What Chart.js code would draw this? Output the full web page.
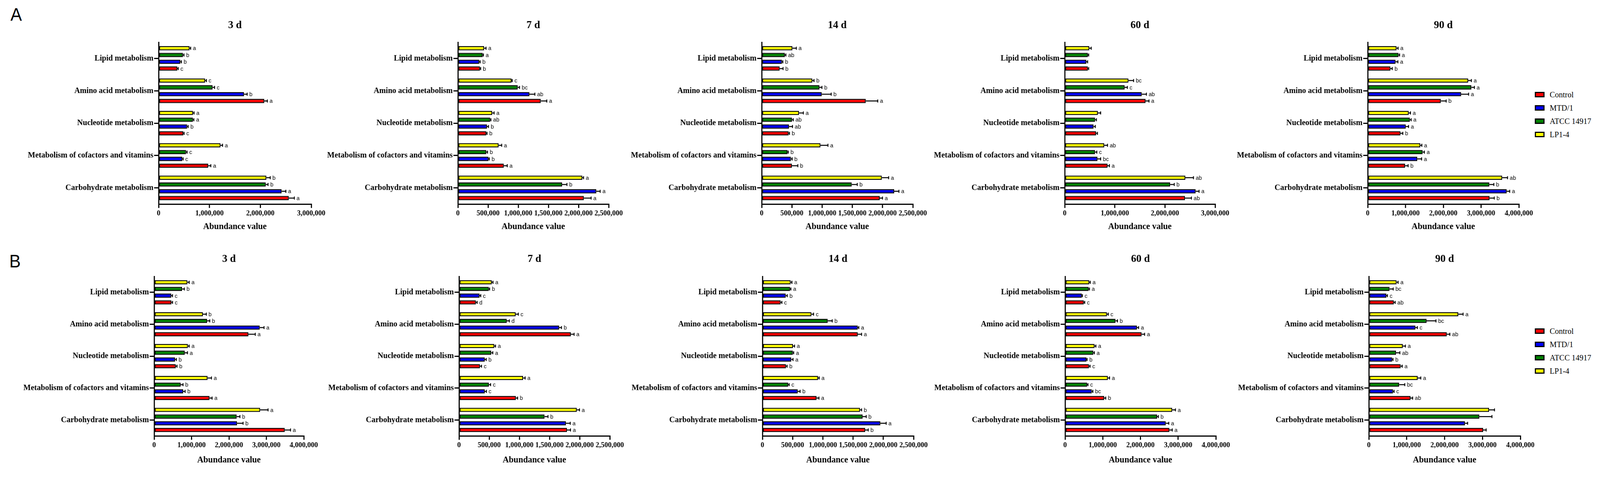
<!DOCTYPE html>
<html>
<head>
<meta charset="utf-8">
<script src="https://cdn.jsdelivr.net/npm/chart.js@4.4.1/dist/chart.umd.min.js"></script>
<style>
html, body { margin: 0; padding: 0; background: #fff; overflow: hidden; }
#page { position: absolute; left: 0; top: 0; width: 4298px; height: 1233px; transform-origin: 0 0; background: #fff; }
canvas { position: absolute; }
.tag { position: absolute; font-family: 'Liberation Sans', Arial, sans-serif; font-size: 46px; line-height: 1; color: #000; }
.legend { position: absolute; font-family: 'Liberation Serif', 'Times New Roman', serif; font-size: 21px; color: #000; }
.legend div { height: 34px; display: flex; align-items: center; white-space: nowrap; }
.legend span { display: inline-block; width: 20px; height: 8px; border: 3px solid #000; margin-right: 14px; }
</style>
</head>
<body>
<div id="page">
<div class="tag" style="left:28px;top:14px">A</div>
<div class="tag" style="left:25px;top:645px">B</div>
<div class="legend" id="legA" style="left:4123px;top:225px"></div>
<div class="legend" id="legB" style="left:4123px;top:830px"></div>
</div>
<script>
const CATS = ['Lipid metabolism', 'Amino acid metabolism', 'Nucleotide metabolism',
  'Metabolism of cofactors and vitamins', 'Carbohydrate metabolism'];
const GROUPS = ['Control', 'MTD/1', 'ATCC 14917', 'LP1-4'];
const COLORS = ['#ff0000', '#0000ff', '#008000', '#ffff00'];
const DAYS = ['3 d', '7 d', '14 d', '60 d', '90 d'];
const MAX_A = [3000000, 2500000, 2500000, 3000000, 4000000];
const MAX_B = [4000000, 2500000, 2500000, 4000000, 4000000];
const STEP_A = [1000000, 500000, 500000, 1000000, 1000000];
const STEP_B = [1000000, 500000, 500000, 1000000, 1000000];

// rows of each array: Control, MTD/1, ATCC 14917, LP1-4 ; columns follow CATS
// ---- A ----
const A3_MEAN = [[366000, 2077000, 486000, 976000, 2559000], [428000, 1680000, 561000, 465000, 2418000],
  [478000, 1060000, 673000, 540000, 2106000], [610000, 914000, 677000, 1217000, 2119000]];
const A3_SD = [[20000, 60000, 15000, 50000, 108000], [20000, 60000, 20000, 17000, 83000],
  [20000, 40000, 20000, 20000, 45000], [20000, 25000, 20000, 40000, 75000]];
const A3_SIG = [['c', 'a', 'c', 'a', 'a'], ['b', 'b', 'b', 'c', 'a'], ['b', 'c', 'a', 'c', 'b'], ['a', 'c', 'a', 'a', 'b']];

const A7_MEAN = [[365000, 1374000, 471000, 761000, 2089000], [354000, 1186000, 482000, 506000, 2295000],
  [411000, 992000, 535000, 471000, 1728000], [436000, 889000, 570000, 676000, 2064000]];
const A7_SD = [[12000, 100000, 12000, 57000, 120000], [15000, 90000, 25000, 15000, 64000],
  [12000, 30000, 12000, 20000, 80000], [30000, 12000, 30000, 50000, 20000]];
const A7_SIG = [['b', 'a', 'b', 'a', 'a'], ['b', 'ab', 'b', 'b', 'a'], ['a', 'bc', 'ab', 'b', 'b'], ['a', 'c', 'a', 'a', 'a']];

const A14_MEAN = [[297000, 1722000, 446000, 499000, 1952000], [336000, 994000, 453000, 484000, 2192000],
  [382000, 955000, 502000, 428000, 1489000], [509000, 838000, 619000, 972000, 1987000]];
const A14_SD = [[57000, 198000, 14000, 99000, 46000], [14000, 156000, 57000, 20000, 78000],
  [18000, 42000, 20000, 12000, 92000], [64000, 28000, 70000, 124000, 113000]];
const A14_SIG = [['b', 'a', 'b', 'b', 'a'], ['b', 'b', 'ab', 'b', 'a'], ['ab', 'b', 'ab', 'b', 'b'], ['a', 'b', 'a', 'a', 'a']];

const A60_MEAN = [[461000, 1613000, 627000, 854000, 2399000], [431000, 1536000, 576000, 653000, 2612000],
  [461000, 1195000, 606000, 606000, 2104000], [491000, 1272000, 662000, 790000, 2407000]];
const A60_SD = [[17000, 68000, 26000, 38000, 128000], [26000, 94000, 34000, 64000, 68000],
  [17000, 55000, 26000, 34000, 81000], [38000, 102000, 55000, 64000, 162000]];
const A60_SIG = [['', 'a', '', 'a', 'ab'], ['', 'ab', '', 'bc', 'a'], ['', 'c', '', 'c', 'b'], ['', 'bc', '', 'ab', 'ab']];

const A90_MEAN = [[600000, 1935000, 866000, 990000, 3225000], [736000, 2472000, 1007000, 1313000, 3678000],
  [815000, 2744000, 1115000, 1454000, 3219000], [764000, 2659000, 1086000, 1392000, 3559000]];
const A90_SD = [[50000, 141000, 62000, 79000, 124000], [62000, 198000, 74000, 113000, 79000],
  [28000, 79000, 34000, 45000, 119000], [40000, 85000, 45000, 40000, 141000]];
const A90_SIG = [['b', 'b', 'b', 'b', 'b'], ['a', 'a', 'a', 'a', 'a'], ['a', 'a', 'a', 'a', 'b'], ['a', 'a', 'a', 'a', 'ab']];

// ---- B ----
const B3_MEAN = [[463000, 2520000, 577000, 1480000, 3491000], [457000, 2823000, 560000, 777000, 2217000],
  [749000, 1417000, 817000, 709000, 2206000], [891000, 1303000, 903000, 1429000, 2834000]];
const B3_SD = [[29000, 183000, 34000, 69000, 154000], [34000, 114000, 34000, 51000, 160000],
  [57000, 69000, 74000, 63000, 86000], [46000, 91000, 34000, 103000, 211000]];
const B3_SIG = [['c', 'a', 'b', 'a', 'a'], ['c', 'a', 'b', 'b', 'b'], ['b', 'b', 'a', 'b', 'b'], ['a', 'b', 'a', 'a', 'a']];

const B7_MEAN = [[280000, 1855000, 348000, 943000, 1791000], [340000, 1660000, 426000, 426000, 1773000],
  [493000, 791000, 535000, 496000, 1418000], [543000, 940000, 585000, 1064000, 1954000]];
const B7_SD = [[20000, 53000, 25000, 28000, 57000], [20000, 39000, 25000, 28000, 71000],
  [14000, 43000, 25000, 28000, 57000], [20000, 43000, 20000, 32000, 43000]];
const B7_SIG = [['d', 'a', 'c', 'b', 'a'], ['c', 'b', 'b', 'c', 'a'], ['b', 'd', 'a', 'c', 'b'], ['a', 'c', 'a', 'a', 'a']];

const B14_MEAN = [[301000, 1576000, 390000, 896000, 1700000], [386000, 1576000, 478000, 584000, 1951000],
  [457000, 1080000, 503000, 425000, 1657000], [467000, 811000, 506000, 921000, 1615000]];
const B14_SD = [[21000, 64000, 18000, 39000, 50000], [25000, 18000, 28000, 39000, 96000],
  [14000, 74000, 14000, 18000, 60000], [21000, 35000, 25000, 18000, 25000]];
const B14_SIG = [['c', 'a', 'b', 'a', 'b'], ['b', 'a', 'a', 'b', 'a'], ['a', 'b', 'a', 'c', 'b'], ['a', 'c', 'a', 'a', 'b']];

const B60_MEAN = [[499000, 2031000, 635000, 1038000, 2769000], [443000, 1906000, 567000, 709000, 2672000],
  [624000, 1339000, 749000, 584000, 2440000], [641000, 1112000, 783000, 1135000, 2843000]];
const B60_SD = [[23000, 79000, 28000, 40000, 74000], [17000, 45000, 17000, 28000, 79000],
  [23000, 51000, 28000, 23000, 34000], [28000, 34000, 34000, 45000, 85000]];
const B60_SIG = [['c', 'a', 'c', 'b', 'a'], ['c', 'a', 'b', 'bc', 'a'], ['a', 'b', 'a', 'c', 'b'], ['a', 'c', 'a', 'a', 'a']];

const B90_MEAN = [[660000, 2059000, 841000, 1100000, 3018000], [463000, 1230000, 615000, 638000, 2539000],
  [547000, 1523000, 717000, 801000, 2917000], [733000, 2364000, 897000, 1292000, 3176000]];
const B90_SD = [[34000, 79000, 40000, 56000, 79000], [28000, 51000, 23000, 28000, 68000],
  [96000, 248000, 102000, 147000, 333000], [40000, 124000, 68000, 79000, 141000]];
const B90_SIG = [['ab', 'ab', 'a', 'ab', ''], ['c', 'c', 'b', 'c', ''], ['bc', 'bc', 'ab', 'bc', ''], ['a', 'a', 'a', 'a', '']];

const SERIF = "'Liberation Serif', 'Times New Roman', serif";
const SANS = "'Liberation Sans', Arial, sans-serif";
const YW = 430, PR = 70;
const page = document.getElementById('page');

// error bars (mean + SD, one-sided) and significance letters
const errBars = {
  id: 'errBars',
  afterDatasetsDraw(chart) {
    const { ctx } = chart;
    const xs = chart.scales.x;
    ctx.save();
    chart.data.datasets.forEach((ds, d) => {
      chart.getDatasetMeta(d).data.forEach((bar, i) => {
        const x1 = xs.getPixelForValue(ds.data[i] + ds.sd[i]);
        const h = bar.height * 0.36;
        ctx.strokeStyle = '#000';
        ctx.lineWidth = 2.5;
        ctx.beginPath();
        ctx.moveTo(bar.x, bar.y); ctx.lineTo(x1, bar.y);
        ctx.moveTo(x1, bar.y - h); ctx.lineTo(x1, bar.y + h);
        ctx.stroke();
        if (ds.sig[i]) {
          ctx.fillStyle = '#000';
          ctx.font = '15px ' + SANS;
          ctx.textBaseline = 'middle';
          ctx.textAlign = 'left';
          ctx.fillText(ds.sig[i], x1 + 6, bar.y + 1);
        }
      });
    });
    ctx.restore();
  }
};

const ROWS = [
  { top: 0, h: 620, plotTop: 108, plotBot: 522, titleTop: 48, xTitleBottom: 26,
    axes: [[426, 836], [1230, 1635], [2046, 2452], [2860, 3264], [3674, 4080]],
    max: MAX_A, step: STEP_A,
    panels: [[A3_MEAN, A3_SD, A3_SIG], [A7_MEAN, A7_SD, A7_SIG], [A14_MEAN, A14_SD, A14_SIG],
      [A60_MEAN, A60_SD, A60_SIG], [A90_MEAN, A90_SD, A90_SIG]] },
  { top: 620, h: 613, plotTop: 87, plotBot: 495, titleTop: 26, xTitleBottom: 42,
    axes: [[414, 816], [1233, 1638], [2048, 2454], [2861, 3266], [3677, 4084]],
    max: MAX_B, step: STEP_B,
    panels: [[B3_MEAN, B3_SD, B3_SIG], [B7_MEAN, B7_SD, B7_SIG], [B14_MEAN, B14_SD, B14_SIG],
      [B60_MEAN, B60_SD, B60_SIG], [B90_MEAN, B90_SD, B90_SIG]] }
];

ROWS.forEach(row => {
  row.panels.forEach(([mean, sd, sig], p) => {
    const [L, R] = row.axes[p];
    const cv = document.createElement('canvas');
    cv.width = YW + (R - L) + PR;
    cv.height = row.h;
    cv.style.left = (L - YW) + 'px';
    cv.style.top = row.top + 'px';
    page.appendChild(cv);

    new Chart(cv, {
      type: 'bar',
      data: {
        labels: CATS,
        datasets: [3, 2, 1, 0].map(k => ({
          label: GROUPS[k], data: mean[k], sd: sd[k], sig: sig[k],
          backgroundColor: COLORS[k], borderColor: '#000', borderWidth: 2.5, borderSkipped: false,
          barPercentage: 0.62, categoryPercentage: 0.84
        }))
      },
      options: {
        indexAxis: 'y', responsive: false, animation: false, events: [],
        layout: { padding: { top: 0, right: PR, bottom: 0, left: 0 } },
        plugins: {
          legend: { display: false },
          tooltip: { enabled: false },
          title: {
            display: true, text: DAYS[p], fullSize: false, color: '#000',
            font: { family: SERIF, size: 28, weight: 'bold', lineHeight: 1.2 },
            padding: { top: row.titleTop, bottom: row.plotTop - row.titleTop - 33.6 }
          }
        },
        scales: {
          x: {
            min: 0, max: row.max[p],
            ticks: { stepSize: row.step[p], color: '#000', padding: 3, maxRotation: 0, autoSkip: false,
              font: { family: SERIF, size: 19, weight: 'bold' },
              callback: v => Number(v).toLocaleString('en-US') },
            grid: { drawOnChartArea: false, color: '#000', lineWidth: 3, tickLength: 10 },
            border: { color: '#000', width: 3 },
            title: { display: true, text: 'Abundance value', color: '#000',
              font: { family: SERIF, size: 23, weight: 'bold', lineHeight: 1.2 },
              padding: { top: 0, bottom: row.xTitleBottom } },
            afterFit: s => { s.height = row.h - row.plotBot; }
          },
          y: {
            ticks: { color: '#000', padding: 2, autoSkip: false,
              font: { family: SERIF, size: 21, weight: 'bold' } },
            grid: { drawOnChartArea: false, offset: false, color: '#000', lineWidth: 3, tickLength: 12 },
            border: { color: '#000', width: 3 },
            afterFit: s => { s.width = YW; }
          }
        }
      },
      plugins: [errBars]
    });
  });
});

// legends (Control, MTD/1, ATCC 14917, LP1-4)
['legA', 'legB'].forEach(id => {
  const box = document.getElementById(id);
  GROUPS.forEach((g, k) => {
    const row = document.createElement('div');
    const sw = document.createElement('span');
    sw.style.background = COLORS[k];
    row.appendChild(sw);
    row.appendChild(document.createTextNode(g));
    box.appendChild(row);
  });
});

// fit the 4298x1233 layout into whatever viewport the page is given
function fit() {
  const sx = window.innerWidth / 4298, sy = window.innerHeight / 1233;
  page.style.transform = 'scale(' + sx + ',' + sy + ')';
}
fit();
window.addEventListener('resize', fit);
</script>
</body>
</html>
